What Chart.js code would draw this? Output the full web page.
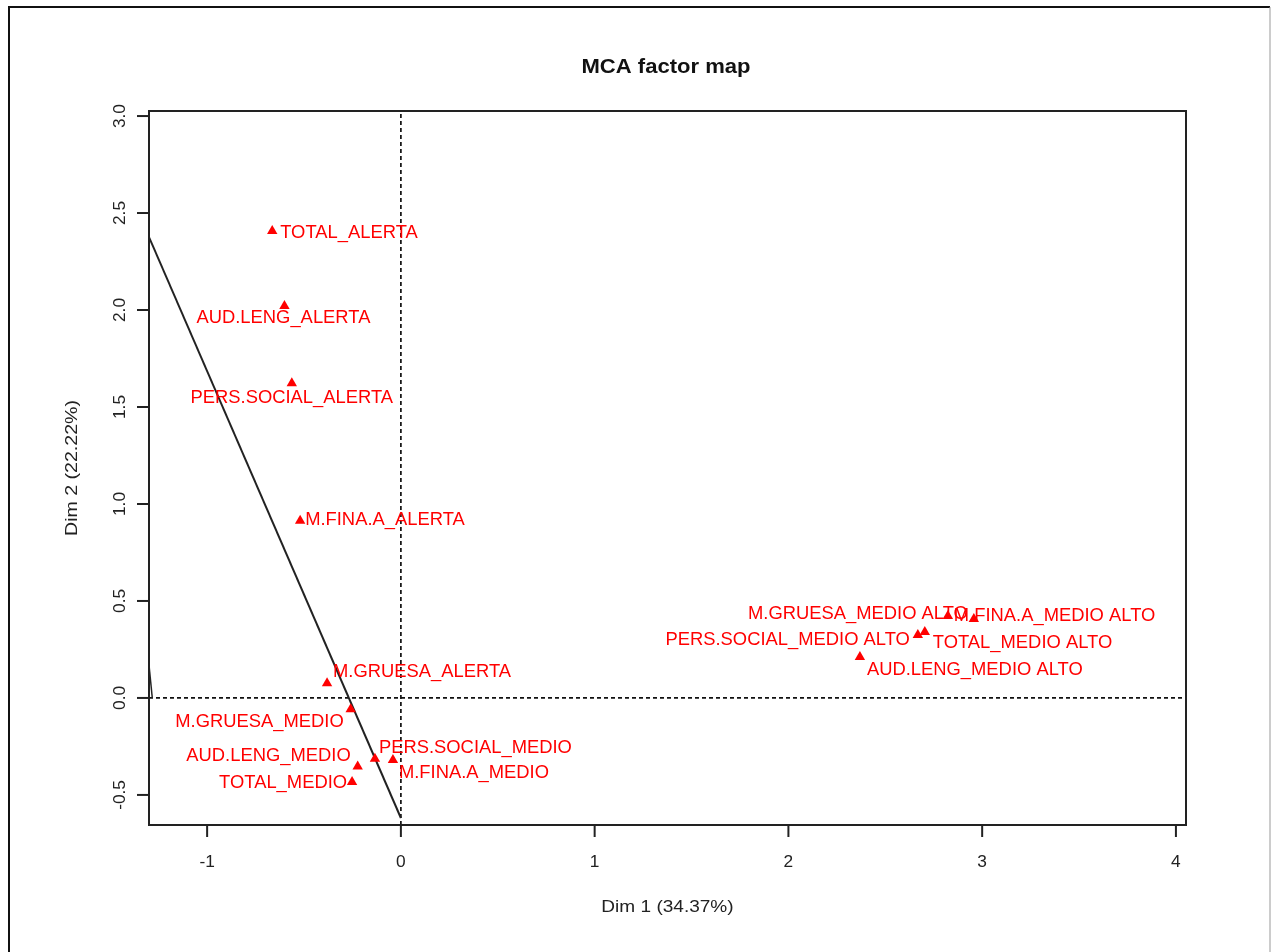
<!DOCTYPE html>
<html>
<head>
<meta charset="utf-8">
<script src="https://cdn.jsdelivr.net/npm/chart.js@4.4.1/dist/chart.umd.min.js"></script>
<style>
  html, body { margin: 0; padding: 0; background: #fff; overflow: hidden; }
  canvas { display: block; }
</style>
</head>
<body>
<canvas id="map" width="1273" height="952"></canvas>
<script>
// Category coordinates on the first two MCA dimensions
const categories = [
  "TOTAL_ALERTA", "AUD.LENG_ALERTA", "PERS.SOCIAL_ALERTA", "M.FINA.A_ALERTA",
  "M.GRUESA_ALERTA", "M.GRUESA_MEDIO", "AUD.LENG_MEDIO", "PERS.SOCIAL_MEDIO",
  "M.FINA.A_MEDIO", "TOTAL_MEDIO", "M.GRUESA_MEDIO ALTO", "M.FINA.A_MEDIO ALTO",
  "PERS.SOCIAL_MEDIO ALTO", "TOTAL_MEDIO ALTO", "AUD.LENG_MEDIO ALTO"
];
const dim1 = [-0.664, -0.601, -0.563, -0.520, -0.381, -0.259, -0.223, -0.134, -0.041, -0.252,
              2.823, 2.957, 2.668, 2.704, 2.369];
const dim2 = [2.407, 2.021, 1.622, 0.914, 0.076, -0.058, -0.354, -0.314, -0.320, -0.433,
              0.423, 0.407, 0.325, 0.340, 0.211];

// Supplementary straight line and the short segment at the left border
const lineX = [-1.30, 0.0];
const lineY = [2.376, -0.619];
const spikeX = [-1.30, -1.283];
const spikeY = [0.17, 0.0];

// Axis ticks
const xTicks = [-1, 0, 1, 2, 3, 4];
const xTickLabels = ["-1", "0", "1", "2", "3", "4"];
const yTicks = [-0.5, 0, 0.5, 1, 1.5, 2, 2.5, 3];
const yTickLabels = ["-0.5", "0.0", "0.5", "1.0", "1.5", "2.0", "2.5", "3.0"];

const xRange = [-1.30, 4.052];
const yRange = [-0.655, 3.026];

// Label placement next to each triangle: [align, dx, dy] in pixels
const labelPlacement = [
  ["left", 8, 2], ["center", -1, 12], ["center", 0, 15], ["left", 5, 0],
  ["left", 6, -11], ["right", -7, 13], ["right", -7, -10], ["left", 4, -11],
  ["left", 6, 13], ["right", -5, 1], ["right", 20, -2], ["left", -20, -3],
  ["right", -8, 5], ["left", 8, 11], ["left", 7, 13]
];

const FONT = '"Liberation Sans", Arial, sans-serif';

const points = dim1.map((x, i) => ({ x: x, y: dim2[i] }));
const zeroH = [{ x: xRange[0], y: 0 }, { x: xRange[1], y: 0 }];
const zeroV = [{ x: 0, y: yRange[0] }, { x: 0, y: yRange[1] }];

// text drawn slightly widened along its own direction
function wideText(ctx, txt, x, y, align, sx, angle) {
  ctx.save();
  ctx.translate(x, y);
  if (angle) ctx.rotate(angle);
  ctx.scale(sx, 1);
  ctx.textAlign = align;
  ctx.fillText(txt, 0, 0);
  ctx.restore();
}

const decor = {
  id: 'decor',
  beforeDraw(chart) {
    const ctx = chart.ctx;
    ctx.save();
    ctx.fillStyle = '#fff';
    ctx.fillRect(0, 0, chart.width, chart.height);
    // outer frame
    ctx.strokeStyle = '#111';
    ctx.lineWidth = 2;
    ctx.beginPath();
    ctx.moveTo(9, 960); ctx.lineTo(9, 7); ctx.lineTo(1270, 7);
    ctx.stroke();
    ctx.strokeStyle = '#999';
    ctx.lineWidth = 1;
    ctx.beginPath();
    ctx.moveTo(1270, 7); ctx.lineTo(1270, 960);
    ctx.stroke();
    ctx.restore();
  },
  afterDatasetsDraw(chart) {
    const ctx = chart.ctx;
    const a = chart.chartArea;
    const xs = chart.scales.x, ys = chart.scales.y;
    ctx.save();

    // point labels
    ctx.fillStyle = '#ff0000';
    ctx.font = '17.5px ' + FONT;
    ctx.textBaseline = 'middle';
    categories.forEach((name, i) => {
      const px = xs.getPixelForValue(dim1[i]);
      const py = ys.getPixelForValue(dim2[i]);
      const [al, dx, dy] = labelPlacement[i];
      wideText(ctx, name, px + dx, py + dy, al, 1.05, 0);
    });

    // plot box
    ctx.strokeStyle = '#222';
    ctx.lineWidth = 2;
    ctx.strokeRect(a.left, a.top, a.right - a.left, a.bottom - a.top);

    // x ticks
    ctx.fillStyle = '#222';
    ctx.font = '16.5px ' + FONT;
    ctx.textBaseline = 'middle';
    xTicks.forEach((v, i) => {
      const px = xs.getPixelForValue(v);
      ctx.beginPath();
      ctx.moveTo(px, a.bottom);
      ctx.lineTo(px, a.bottom + 12);
      ctx.stroke();
      wideText(ctx, xTickLabels[i], px, 862, 'center', 1.05, 0);
    });
    // y ticks, labels rotated
    yTicks.forEach((v, i) => {
      const py = ys.getPixelForValue(v);
      ctx.beginPath();
      ctx.moveTo(a.left, py);
      ctx.lineTo(a.left - 12, py);
      ctx.stroke();
      wideText(ctx, yTickLabels[i], 120, py, 'center', 1.05, -Math.PI / 2);
    });

    // axis titles
    ctx.font = '17px ' + FONT;
    wideText(ctx, 'Dim 1 (34.37%)', (a.left + a.right) / 2, 907, 'center', 1.12, 0);
    wideText(ctx, 'Dim 2 (22.22%)', 72, (a.top + a.bottom) / 2, 'center', 1.15, -Math.PI / 2);

    // main title
    ctx.fillStyle = '#111';
    ctx.font = 'bold 21px ' + FONT;
    wideText(ctx, 'MCA factor map', 666, 67, 'center', 1.05, 0);
    ctx.restore();
  }
};

new Chart(document.getElementById('map'), {
  type: 'scatter',
  data: {
    datasets: [
      {
        data: zeroH, showLine: true, borderColor: '#111', borderWidth: 1.7,
        borderDash: [4, 3], pointRadius: 0, order: 5
      },
      {
        data: zeroV, showLine: true, borderColor: '#111', borderWidth: 1.7,
        borderDash: [4, 3], pointRadius: 0, order: 5
      },
      {
        data: lineX.map((x, i) => ({ x: x, y: lineY[i] })), showLine: true,
        borderColor: '#222', borderWidth: 2, pointRadius: 0, order: 4
      },
      {
        data: spikeX.map((x, i) => ({ x: x, y: spikeY[i] })), showLine: true,
        borderColor: '#222', borderWidth: 1.5, pointRadius: 0, order: 4
      },
      {
        data: points, pointStyle: 'triangle', pointRadius: 6,
        backgroundColor: '#ff0000', borderColor: '#ff0000', borderWidth: 0, order: 1
      }
    ]
  },
  options: {
    responsive: false,
    animation: false,
    devicePixelRatio: 1,
    layout: { padding: { left: 149, top: 111, right: 87, bottom: 127 } },
    plugins: { legend: { display: false }, tooltip: { enabled: false }, title: { display: false } },
    events: [],
    scales: {
      x: { type: 'linear', min: xRange[0], max: xRange[1], display: false },
      y: { type: 'linear', min: yRange[0], max: yRange[1], display: false }
    }
  },
  plugins: [decor]
});
</script>
</body>
</html>
